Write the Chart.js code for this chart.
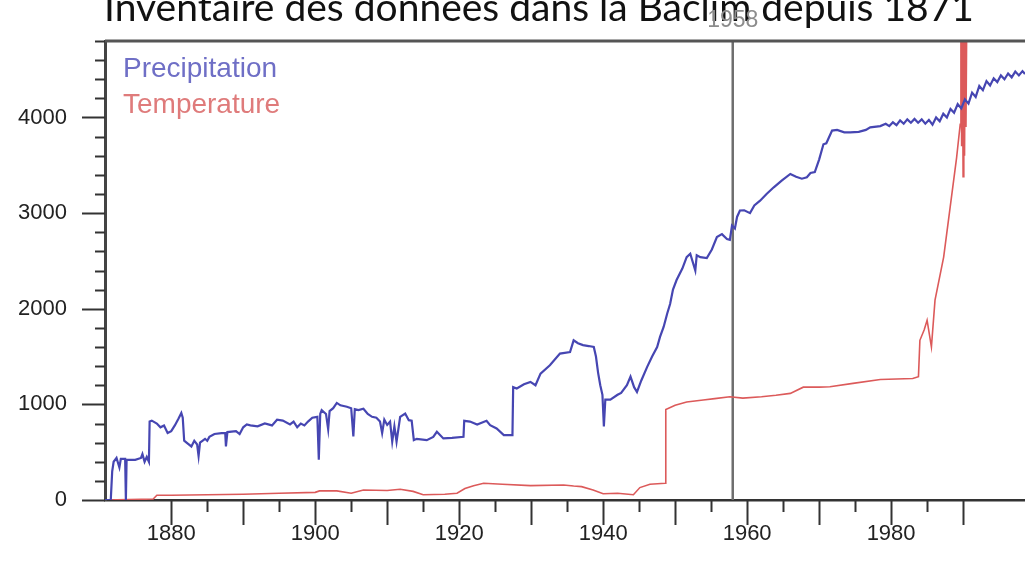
<!DOCTYPE html>
<html>
<head>
<meta charset="utf-8">
<script src="https://cdn.jsdelivr.net/npm/chart.js@4/dist/chart.umd.min.js"></script>
<style>
  html, body { margin: 0; padding: 0; background: #fff; }
  #wrap { width: 1025px; height: 564px; position: relative; }
</style>
</head>
<body>
<div id="wrap"><canvas id="baclim_chart"></canvas></div>
<script>
// data
const precipYears = [
  1870.8, 1871.6, 1871.8, 1872.0, 1872.4, 1872.8, 1873.0, 1873.6, 1873.7, 1873.8, 1875.0, 1875.8, 1876.0, 1876.3, 1876.6, 1876.9,
  1877.0, 1877.3, 1878.0, 1878.5, 1879.0, 1879.5, 1880.0, 1880.5, 1881.0, 1881.4, 1881.6, 1881.8, 1882.3, 1882.8, 1883.2, 1883.6,
  1883.8, 1884.0, 1884.7, 1885.0, 1885.3, 1886.0, 1887.0, 1887.5, 1887.6, 1887.8, 1889.0, 1889.5, 1890.0, 1890.5, 1891.0, 1892.0,
  1893.0, 1894.0, 1894.7, 1895.5, 1896.5, 1897.0, 1897.5, 1898.0, 1898.5, 1899.0, 1899.6, 1900.3, 1900.5, 1900.7, 1900.9, 1901.5,
  1901.8, 1902.0, 1902.5, 1903.0, 1903.5, 1904.4, 1905.0, 1905.3, 1905.5, 1906.0, 1906.7, 1907.3, 1907.9, 1908.5, 1909.0, 1909.3,
  1909.6, 1910.0, 1910.4, 1910.7, 1911.0, 1911.3, 1911.8, 1912.5, 1913.0, 1913.4, 1913.7, 1914.1, 1915.5, 1916.4, 1916.9, 1917.8,
  1919.0, 1920.6, 1920.7, 1921.5, 1922.5, 1923.8, 1924.3, 1925.2, 1926.2, 1927.4, 1927.5, 1928.0, 1929.0, 1929.9, 1930.6, 1931.3,
  1932.6, 1934.0, 1935.4, 1935.9, 1936.5, 1937.2, 1938.0, 1938.7, 1939.0, 1939.3, 1939.6, 1939.9, 1940.1, 1940.3, 1941.0, 1942.0,
  1942.5, 1943.3, 1943.8, 1944.3, 1944.7, 1945.3, 1946.1, 1946.8, 1947.5, 1947.9, 1948.4, 1948.9, 1949.3, 1949.7, 1950.2, 1951.0,
  1951.6, 1952.1, 1952.8, 1953.0, 1953.5, 1954.4, 1955.1, 1955.8, 1956.5, 1957.2, 1957.6, 1957.9, 1958.3, 1958.6, 1959.0, 1959.6,
  1960.4, 1961.0, 1961.8, 1962.7, 1963.7, 1964.8, 1966.0, 1966.8, 1967.6, 1968.3, 1968.8, 1969.4, 1970.0, 1970.6, 1971.0, 1971.8,
  1972.5, 1973.5, 1974.3, 1975.5, 1976.5, 1977.1, 1978.5, 1979.25, 1979.75, 1980.25, 1980.75, 1981.25, 1981.75, 1982.25, 1982.75, 1983.25,
  1983.75, 1984.25, 1984.75, 1985.25, 1985.75, 1986.25, 1986.75, 1987.25, 1987.75, 1988.25, 1988.75, 1989.25, 1989.75, 1990.25, 1990.75, 1991.25,
  1991.75, 1992.25, 1992.75, 1993.25, 1993.75, 1994.25, 1994.75, 1995.25, 1995.75, 1996.25, 1996.75, 1997.25, 1997.75, 1998.25, 1998.6
];
const precipValues = [
  0, 0, 300, 400, 440, 340, 430, 430, 0, 420, 420, 440, 480, 400, 450, 400,
  820, 830, 800, 760, 780, 700, 720, 780, 850, 910, 860, 620, 590, 560, 620, 580,
  460, 600, 640, 620, 660, 690, 700, 700, 560, 710, 720, 690, 760, 790, 780, 770,
  800, 780, 840, 830, 790, 820, 760, 800, 780, 820, 860, 870, 420, 900, 940, 900,
  740, 930, 960, 1015, 990, 975, 960, 665, 950, 940, 955, 900, 870, 860, 820, 700,
  840, 785, 820, 610, 770, 610, 870, 905, 835, 830, 626, 640, 626, 660, 713, 644,
  650, 661, 828, 820, 790, 828, 783, 748, 679, 679, 1180, 1166, 1210, 1235, 1200, 1322,
  1409, 1531, 1548, 1670, 1640, 1620, 1610, 1600, 1500, 1330, 1200, 1100, 770, 1050, 1050, 1100,
  1120, 1200, 1290, 1180, 1130, 1250, 1390, 1500, 1600, 1705, 1810, 1950, 2050, 2200, 2300, 2420,
  2540, 2575, 2400, 2560, 2540, 2530, 2620, 2750, 2780, 2730, 2720, 2870, 2840, 2960, 3028, 3030,
  3000, 3080, 3130, 3200, 3270, 3340, 3410, 3380, 3360, 3375, 3420, 3430, 3560, 3720, 3730, 3863,
  3870, 3845, 3845, 3850, 3870, 3897, 3910, 3935, 3910, 3950, 3920, 3970, 3935, 3980, 3945, 3985,
  3945, 3980, 3935, 3975, 3925, 4000, 3960, 4040, 4000, 4090, 4050, 4140, 4095, 4190, 4145, 4260,
  4215, 4330, 4285, 4380, 4335, 4410, 4370, 4440, 4400, 4460, 4420, 4480, 4440, 4485, 4455
];

const tempYears = [
  1870.8, 1877.5, 1878.0, 1880.0, 1885.0, 1890.0, 1895.0, 1900.0, 1900.6, 1903.0, 1905.0, 1906.7, 1910.0, 1911.8, 1913.6, 1915.0,
  1918.0, 1919.7, 1920.8, 1922.0, 1923.4, 1926.0, 1929.9, 1934.5, 1935.9, 1937.0, 1938.6, 1940.0, 1942.0, 1944.2, 1945.1, 1946.5,
  1948.6, 1948.7, 1950.0, 1951.6, 1953.9, 1955.5, 1957.6, 1959.4, 1962.0, 1964.0, 1966.0, 1967.8, 1970.0, 1971.5, 1974.7, 1978.5,
  1983.0, 1983.8, 1984.0, 1984.6, 1985.0, 1985.6, 1986.1, 1987.3, 1988.2, 1989.1, 1989.6, 1989.7, 1989.8, 1989.9, 1990.0, 1990.1,
  1990.2, 1990.3, 1990.4, 1990.5
];
const tempValues = [
  0, 10, 50, 50, 55, 60, 70, 80, 95, 95, 70, 105, 100, 112, 90, 55,
  60, 70, 120, 150, 175, 165, 150, 157, 146, 140, 105, 65, 70, 55, 130, 165,
  175, 945, 990, 1025, 1045, 1060, 1080, 1065, 1080, 1095, 1115, 1180, 1180, 1185, 1220, 1260,
  1270, 1290, 1670, 1780, 1880, 1600, 2090, 2540, 3060, 3580, 3930, 4950, 3700, 4950, 3380, 4950,
  3600, 4950, 3900, 4950
];

const markerYear = 1958;
const xTickLabels = [1880, 1900, 1920, 1940, 1960, 1980];
const yTickLabels = [0, 1000, 2000, 3000, 4000];

function toPoints(xs, ys) {
  return xs.map((x, i) => ({ x: x, y: ys[i] }));
}

// title, legend text, frame, tick marks
const decorPlugin = {
  id: 'decor',
  afterDraw(chart) {
    const ctx = chart.ctx;
    const area = chart.chartArea;
    const xs = chart.scales.x;
    const ys = chart.scales.y;
    ctx.save();

    // title (cut by the top edge like the reference)
    ctx.fillStyle = '#111';
    ctx.font = '39px Lato';
    ctx.textAlign = 'center';
    ctx.textBaseline = 'alphabetic';
    ctx.fillText('Inventaire des données dans la Baclim depuis 1871', 539, 21);

    // marker year label
    ctx.fillStyle = '#8c8c8c';
    ctx.font = '23px "Liberation Sans"';
    ctx.fillText(String(markerYear), xs.getPixelForValue(markerYear), 27);

    // top frame line
    ctx.strokeStyle = '#555';
    ctx.lineWidth = 3;
    ctx.beginPath();
    ctx.moveTo(area.left, area.top);
    ctx.lineTo(area.right, area.top);
    ctx.stroke();

    // tick marks
    ctx.strokeStyle = '#333';
    ctx.lineWidth = 2;
    xs.ticks.forEach(t => {
      const v = t.value;
      if (Math.abs(v - Math.round(v / 5) * 5) > 1e-6) return;
      const len = Math.round(v) % 10 === 0 ? 25 : 12;
      const px = Math.round(xs.getPixelForValue(v)) + 0.5;
      ctx.beginPath();
      ctx.moveTo(px, area.bottom);
      ctx.lineTo(px, area.bottom + len);
      ctx.stroke();
    });
    ys.ticks.forEach(t => {
      const v = t.value;
      if (Math.abs(v - Math.round(v / 200) * 200) > 1e-6) return;
      const len = Math.round(v) % 1000 === 0 ? 23 : 10;
      const py = Math.round(ys.getPixelForValue(v)) + 0.5;
      ctx.beginPath();
      ctx.moveTo(area.left - len, py);
      ctx.lineTo(area.left, py);
      ctx.stroke();
    });

    // legend text
    ctx.textAlign = 'left';
    ctx.font = '28px "Liberation Sans"';
    ctx.fillStyle = '#6f6fc6';
    ctx.fillText('Precipitation', area.left + 18, 77);
    ctx.fillStyle = '#df7b7b';
    ctx.fillText('Temperature', area.left + 18, 113);
    ctx.restore();
  }
};

const ctxBaclim = document.getElementById('baclim_chart').getContext('2d');
const baclimChart = new Chart(ctxBaclim, {
  type: 'line',
  data: {
    datasets: [
      {
        label: 'Precipitation',
        data: toPoints(precipYears, precipValues),
        borderColor: '#4646b2',
        borderWidth: 2.2,
        pointRadius: 0,
        tension: 0
      },
      {
        label: 'Temperature',
        data: toPoints(tempYears, tempValues),
        borderColor: '#dc5a5a',
        borderWidth: 1.6,
        pointRadius: 0,
        tension: 0
      },
      {
        label: String(markerYear),
        data: [{ x: markerYear, y: 0 }, { x: markerYear, y: 4800 }],
        borderColor: '#6e6e6e',
        borderWidth: 2.5,
        pointRadius: 0
      }
    ]
  },
  options: {
    responsive: true,
    maintainAspectRatio: false,
    animation: false,
    layout: { padding: { top: 41, left: 0, right: 0, bottom: 0 } },
    plugins: {
      legend: { display: false },
      title: { display: false },
      tooltip: { enabled: false }
    },
    scales: {
      x: {
        type: 'linear',
        min: 1870.8,
        max: 1998.6,
        afterFit: s => { s.height = 64; s.paddingLeft = 0; s.paddingRight = 0; },
        grid: { display: true, drawOnChartArea: false, drawTicks: false },
        border: { display: true, color: '#333', width: 2.5 },
        ticks: {
          stepSize: 5,
          autoSkip: false,
          maxRotation: 0,
          padding: 21,
          color: '#222',
          font: { family: '"Liberation Sans"', size: 22 },
          callback: v => xTickLabels.includes(v) ? String(v) : ''
        }
      },
      y: {
        min: 0,
        max: 4800,
        afterFit: s => { s.width = 105; s.paddingTop = 0; s.paddingBottom = 0; },
        grid: { display: true, drawOnChartArea: false, drawTicks: false },
        border: { display: true, color: '#444', width: 3 },
        ticks: {
          stepSize: 200,
          autoSkip: false,
          padding: 38,
          color: '#222',
          font: { family: '"Liberation Sans"', size: 22 },
          callback: v => yTickLabels.includes(v) ? String(v) : ''
        }
      }
    }
  },
  plugins: [decorPlugin]
});
</script>
</body>
</html>
